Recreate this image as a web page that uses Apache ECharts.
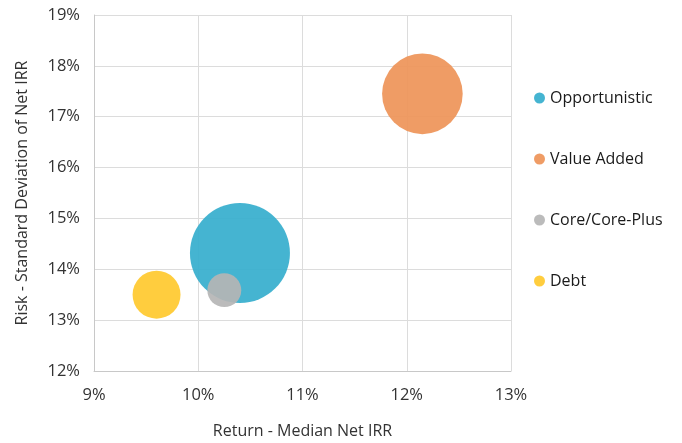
<!DOCTYPE html>
<html>
<head>
<meta charset="utf-8">
<script src="https://cdn.jsdelivr.net/npm/echarts@6/dist/echarts.min.js"></script>
<style>
  html, body { margin: 0; padding: 0; background: #fff; }
  #chart { width: 682px; height: 443px; }
</style>
</head>
<body>
<div id="chart"></div>
<script>
// strategies, return (x, %), risk (y, %), bubble size (relative)
const strategies = ['Opportunistic', 'Value Added', 'Core/Core-Plus', 'Debt'];
const medianIrr = [10.40, 12.15, 10.25, 9.60];
const stdDevIrr = [14.32, 17.45, 13.59, 13.50];
const bubbleSize = [100, 65, 11.5, 23];
const colors = ['#35aecd', '#ee9458', '#b5b5b5', '#ffc92e'];

const xTicks = [9, 13, 1];
const yTicks = [12, 19, 1];

const font = 'Open Sans';

let series = strategies.map((name, i) => ({
  name: name,
  type: 'scatter',
  data: [[medianIrr[i], stdDevIrr[i], bubbleSize[i]]],
  symbolSize: d => 10 * Math.sqrt(d[2]),
  itemStyle: { color: colors[i], opacity: 0.92 },
  emphasis: { disabled: true }
}));

let myChart = echarts.init(document.getElementById('chart'));
myChart.setOption({
  animation: false,
  color: colors,
  grid: { left: 94, right: 171, top: 15, bottom: 72, outerBoundsMode: 'none', containLabel: false },
  legend: {
    orient: 'vertical',
    left: 529,
    top: 83,
    icon: 'circle',
    itemWidth: 11,
    itemHeight: 11,
    itemGap: 41,
    data: strategies,
    textStyle: { fontFamily: font, fontSize: 16, color: '#1a1a1a', lineHeight: 20 }
  },
  xAxis: {
    type: 'value',
    min: xTicks[0], max: xTicks[1], interval: xTicks[2],
    name: 'Return - Median Net IRR',
    nameLocation: 'middle',
    nameGap: 52,
    nameTextStyle: { fontFamily: font, fontSize: 16, color: '#333' },
    axisLine: { show: true, lineStyle: { color: '#c8c8c8' } },
    axisTick: { show: false },
    axisLabel: { formatter: '{value}%', fontFamily: font, fontSize: 16.5, color: '#333', margin: 16 },
    splitLine: { show: true, lineStyle: { color: '#dcdcdc' } }
  },
  yAxis: {
    type: 'value',
    min: yTicks[0], max: yTicks[1], interval: yTicks[2],
    name: 'Risk - Standard Deviation of Net IRR',
    nameLocation: 'middle',
    nameGap: 64,
    nameTextStyle: { fontFamily: font, fontSize: 16, color: '#333' },
    axisLine: { show: true, lineStyle: { color: '#c8c8c8' } },
    axisTick: { show: false },
    axisLabel: { formatter: '{value}%', fontFamily: font, fontSize: 16.5, color: '#333', margin: 14 },
    splitLine: { show: true, lineStyle: { color: '#dcdcdc' } }
  },
  series: series
});
</script>
</body>
</html>
